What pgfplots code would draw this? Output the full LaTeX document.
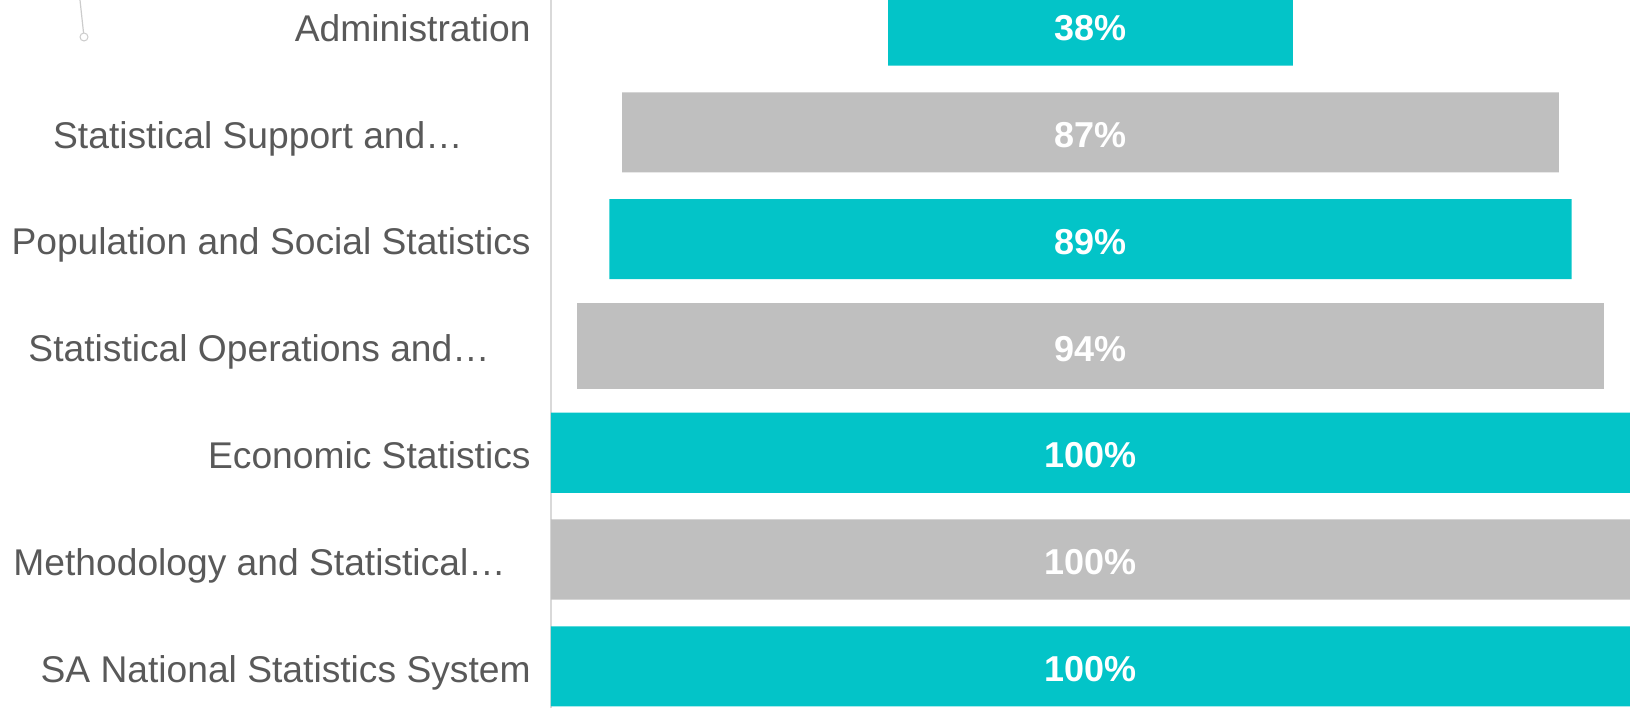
\documentclass[border=0pt]{standalone}
\usepackage{pgfplots}
\pgfplotsset{compat=1.18}
\usepackage{pgfplotstable}
\usepackage{fontspec}
\setmainfont{Liberation Sans}
\definecolor{tealbar}{HTML}{03C4C8}
\definecolor{greybar}{HTML}{BFBFBF}
\definecolor{labgrey}{HTML}{595959}
\definecolor{axgrey}{HTML}{D9D9D9}
\definecolor{artgrey}{HTML}{CCCCCC}

% k: position (0 = bottom); off = (100 - bar length)/2 (invisible spacer)
% bar lengths as drawn in the picture
\pgfplotstableread{
k off   teal  grey  greyb
0 0     100   0     0
1 0     0     100   0
2 0     100   0     0
3 2.45  0     0     95.1
4 5.4   89.2  0     0
5 6.6   0     86.8  0
6 31.25 37.5  0     0
}\bars

% printed values
\pgfplotstableread{
k x v
0 50 100
1 50 100
2 50 100
3 50 94
4 50 89
5 50 87
6 50 38
}\labs

\begin{document}
\begin{tikzpicture}
\begin{axis}[
  at={(275.5pt,0pt)}, anchor=south west,
  width=539.5pt, height=354pt, scale only axis,
  xbar stacked, bar width=0.75,
  xmin=0, xmax=100, ymin=-0.3904, ymax=6.2388,
  axis x line=none, axis y line*=left,
  y axis line style={draw=axgrey, line width=0.8pt},
  ytick={0,...,6},
  yticklabels={SA National Statistics System,
    Methodology and Statistical…\hspace*{12.5pt},
    Economic Statistics,
    Statistical Operations and…\hspace*{20.5pt},
    Population and Social Statistics,
    Statistical Support and…\hspace*{34pt},
    Administration},
  major tick length=0pt,
  yticklabel style={anchor=base east, inner sep=0pt, xshift=-10pt, yshift=-7.85pt,
    font=\fontsize{18.6pt}{22pt}\selectfont, text=labgrey},
]
\addplot[draw=none, fill=none] table[x=off, y=k] {\bars};
\addplot[draw=none, fill=tealbar] table[x=teal, y=k] {\bars};
\addplot[draw=none, fill=greybar] table[x=grey, y=k] {\bars};
\addplot[draw=none, fill=greybar, bar width=0.805] table[x=greyb, y=k] {\bars};
\end{axis}
\begin{axis}[
  at={(275.5pt,0pt)}, anchor=south west,
  width=539.5pt, height=354pt, scale only axis,
  xmin=0, xmax=100, ymin=-0.3904, ymax=6.2388,
  hide axis,
]
\addplot[only marks, mark=none, nodes near coords={\pgfplotspointmeta\%},
  point meta=explicit symbolic,
  every node near coord/.style={anchor=base, inner sep=0pt, yshift=-7.55pt,
    font=\fontsize{18pt}{22pt}\selectfont\bfseries, text=white}]
  table[x=x, y=k, meta=v] {\labs};
\end{axis}
\draw[artgrey, line width=0.6pt] (40pt,354pt) -- (42pt,335.5pt);
\draw[artgrey, line width=0.5pt, fill=white] (42pt,335.5pt) circle (2pt);
\pgfresetboundingbox
\useasboundingbox (0,0) rectangle (815pt,354pt);
\end{tikzpicture}
\end{document}
